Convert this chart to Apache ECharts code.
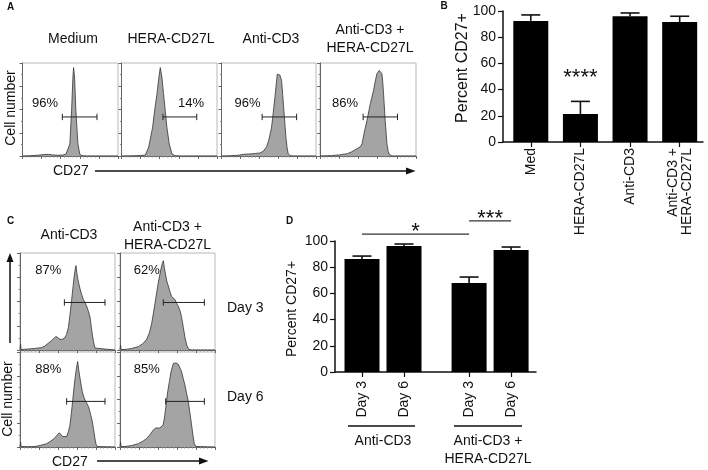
<!DOCTYPE html>
<html><head><meta charset="utf-8">
<script src="https://cdn.jsdelivr.net/npm/echarts@6/dist/echarts.min.js"></script>
<style>html,body{margin:0;padding:0;background:#fff}#c{width:708px;height:470px}</style>
</head><body><div id="c"></div>
<script>
// ================= DATA =================
// Flow histograms: [CD27 position (0-100 across panel), cell number (% of panel height)]
const histMedium = [[0,0],[8,0.3],[16,0.8],[22,1.5],[27,1.8],[31,1.2],[37,0.8],[42,1],[45.5,2],[49.6,13],[51.4,49],[52.8,85],[53.5,95],[54.5,85],[55.9,49],[58,13],[60.1,1.5],[63,0.3],[68,0],[100,0]];
const histHERA = [[0,0],[12,0.2],[20,0.5],[25,1],[28.5,9.7],[32.6,31],[34.7,49],[37.2,67],[39.2,85],[40.6,95],[42.3,85],[44,67],[45.8,49],[47.5,31],[50,13],[52.8,2.5],[56,0.3],[62,0],[100,0]];
const histAntiCD3 = [[0,0],[10,0.3],[18,0.8],[22.9,1.8],[30,2.2],[36,2.8],[40.6,3.2],[44,5],[47.7,9.7],[50,17],[53,31],[54.8,47],[56.5,63],[57.8,76],[59,88],[60,86.5],[61,88.5],[61.8,87],[62.7,84],[63.6,81],[64.8,65],[66,49],[67.2,33],[68.2,20],[69.4,9],[70.6,2.5],[72.5,0.3],[76,0],[100,0]];
const histCombo = [[0,0],[12,0.4],[20,1.2],[28.3,2.5],[33,4.5],[38.6,7.9],[42,10],[43.8,13.3],[46.2,25.8],[49,38.4],[52.4,56.3],[54,63],[55.8,70.6],[57.5,80],[59.3,88.5],[60.3,90],[61.7,92],[62.7,91],[63.6,90.5],[64.5,88.5],[65.3,80],[66.2,67],[67.9,38.4],[69.7,13.3],[71,5],[72.4,1.4],[75,0],[100,0]];
const histD3Anti = [[0,0],[0.6,6],[1.2,0.5],[3,0.5],[8.8,1],[15,1.5],[22.8,2.5],[26,4],[29.8,7],[33,9.5],[35.1,11],[37.9,14],[40,13],[42.1,11],[44.5,11],[46.7,12],[49,16],[50.9,23],[52.7,37],[54.4,52],[55.6,63],[56.8,74],[57.9,82],[58.9,87],[59.8,80],[60.7,74],[62,68],[63.2,63],[65,57],[66.7,52],[68.4,49],[70.2,45],[72,40],[73.7,34],[74.9,25],[76.1,16],[77.5,8],[78.9,2],[80.7,0],[100,0]];
const histD3Combo = [[0,0],[0.6,5],[1.2,0.5],[5.3,0.5],[12,1.5],[19.3,3.5],[24,6.5],[28.1,11],[31,18],[33.3,27],[35,37],[36.8,48],[38.6,59],[40.4,70],[42,78],[43.2,84],[44.5,89],[45.6,92],[46.8,84],[48.1,77],[49.5,70],[50.9,66],[52.6,60],[54.4,55],[56,53],[57.9,52],[59.6,48],[61.4,45],[62.6,42],[63.9,38],[65.3,31],[66.7,23],[68.4,13],[70.2,5],[72.6,0.5],[75,0],[100,0]];
const histD6Anti = [[0,0],[0.6,5],[1.2,0.5],[8,0.3],[15.8,0.5],[22,1.8],[28.1,3.5],[32,6],[36.1,9],[39,12.5],[41.4,15],[43.2,13],[44.9,11],[47,10.5],[49.1,11],[50.9,16],[52.6,23],[54,35],[55.4,48],[56.6,60],[57.9,72],[59.3,82],[60.7,90],[62,80],[63.2,72],[64.4,65],[65.6,58],[67.4,52],[69.1,48],[70.9,45],[72.6,41],[74.4,34],[76.1,27],[77.5,18],[78.9,9],[80,3],[81.1,0.5],[83,0],[100,0]];
const histD6Combo = [[0,0],[0.6,5],[1.2,0.5],[5.3,0.5],[12,1.5],[19.3,3.5],[24,6],[28.1,9],[32,13.5],[35.1,18],[37.5,20],[39.6,21],[41.8,20],[43.9,19],[45.3,23],[46.7,30],[48.5,44],[50.2,58],[52,69],[53.7,79],[55,84],[56.1,88],[57,87],[57.9,90],[59,88.5],[60.2,89],[61.4,87],[63.2,83],[64.9,79],[66.6,72],[68.4,65],[70.2,56],[71.9,48],[73.7,35],[75.4,23],[76.8,12],[78.2,3.5],[80,0.5],[82,0],[100,0]];

// Gates: [start, end, height]
const aGates = [[41.7,78,42],[43.4,78.8,42],[43,79.5,42],[44.9,80.7,42]];
const cGates = [[46.7,89.5,49],[45.6,88.8,49],[49.1,89.5,48],[48.1,88.8,48]];
const aTitles = ['Medium','HERA-CD27L','Anti-CD3',['Anti-CD3 +','HERA-CD27L']];
const aPercents = ['96%','14%','96%','86%'];
const cTitles = ['Anti-CD3',['Anti-CD3 +','HERA-CD27L']];
const cDays = ['Day 3','Day 6'];
const cPercents = ['87%','62%','88%','85%'];

// Panel B
const bCategories = ['Med','HERA-CD27L','Anti-CD3','Anti-CD3 +\nHERA-CD27L'];
const bValues = [92.4, 21.4, 96, 91.6];
const bErrorTop = [97, 31, 98.5, 96];
const bSignif = [[1,'****']];
const yTicks = [0,20,40,60,80,100];

// Panel D
const dLabels = ['Day 3','Day 6','Day 3','Day 6'];
const dPositions = [1, 2, 3.55, 4.55];
const dValues = [86.3, 96.2, 67.9, 93.1];
const dErrorTop = [88.5, 97.7, 72.5, 95.4];
const dGroups = ['Anti-CD3', ['Anti-CD3 +','HERA-CD27L']];
const dComparisons = [[0,2,'*'],[2,3,'***']];

// ================= LAYOUT =================
const FONT = '"Liberation Sans", Arial, Helvetica, sans-serif';
const histBoxes = [
  {left:22.5, top:63, width:95.5, height:93},
  {left:121.5, top:63, width:95.5, height:93},
  {left:221.5, top:63, width:94.5, height:93},
  {left:320, top:63, width:96, height:93},
  {left:20, top:253, width:95, height:97},
  {left:120, top:253, width:95, height:97},
  {left:20, top:352, width:95, height:95},
  {left:120, top:352, width:95, height:95}
];
const hists = [histMedium, histHERA, histAntiCD3, histCombo, histD3Anti, histD3Combo, histD6Anti, histD6Combo];
const gates = aGates.concat(cGates);
const bGrid = {left:503, top:11, width:200, height:131};
const dGrid = {left:335, top:241, width:201, height:131};
const dSigLevels = [105.3, 115.3];

const grids = [], xAxes = [], yAxes = [], series = [];
histBoxes.forEach((b, i) => {
  grids.push(Object.assign({show:true, borderColor:'#b8b8b8', borderWidth:1, containLabel:false, outerBoundsMode:'none'}, b));
  xAxes.push({gridIndex:i, type:'value', min:0, max:100, interval:20,
    axisLine:{show:true, onZero:false, lineStyle:{color:'#666', width:1}},
    axisTick:{show:true, length:3, lineStyle:{color:'#666'}},
    minorTick:{show:true, splitNumber:5, length:1.5, lineStyle:{color:'#888'}},
    axisLabel:{show:false}, splitLine:{show:false}});
  yAxes.push({gridIndex:i, type:'value', min:0, max:100, interval:25,
    axisLine:{show:true, onZero:false, lineStyle:{color:'#666', width:1}},
    axisTick:{show:true, length:3, lineStyle:{color:'#666'}},
    minorTick:{show:true, splitNumber:2, length:1.5, lineStyle:{color:'#888'}},
    axisLabel:{show:false}, splitLine:{show:false}});
  series.push({type:'line', xAxisIndex:i, yAxisIndex:i, data:hists[i], symbol:'none', silent:true,
    lineStyle:{color:'#333', width:0.8}, areaStyle:{color:'#a4a4a4', opacity:1}});
  series.push({type:'custom', xAxisIndex:i, yAxisIndex:i, data:[gates[i]], silent:true, z:5,
    renderItem:(p, api) => {
      const a = api.coord([api.value(0), api.value(2)]);
      const c = api.coord([api.value(1), api.value(2)]);
      const st = {stroke:'#222', lineWidth:1};
      return {type:'group', children:[
        {type:'line', shape:{x1:a[0],y1:a[1],x2:c[0],y2:c[1]}, style:st},
        {type:'line', shape:{x1:a[0],y1:a[1]-3.2,x2:a[0],y2:a[1]+3.2}, style:st},
        {type:'line', shape:{x1:c[0],y1:c[1]-3.2,x2:c[0],y2:c[1]+3.2}, style:st}]};
    }});
});

function barAxes(gi, grid, xmin, xmax, ticks, fmt, margin) {
  grids.push(Object.assign({containLabel:false, outerBoundsMode:'none'}, grid));
  xAxes.push({gridIndex:gi, type:'value', min:xmin, max:xmax,
    axisLine:{show:true, onZero:false, lineStyle:{color:'#111', width:1.5}},
    axisTick:{show:true, customValues:ticks, length:5, lineStyle:{color:'#111', width:1.2}},
    axisLabel:{show:true, customValues:ticks, formatter:fmt, rotate:90, margin:margin,
      fontFamily:FONT, fontSize:14, color:'#111', lineHeight:14},
    splitLine:{show:false}});
  yAxes.push({gridIndex:gi, type:'value', min:0, max:100, interval:20,
    axisLine:{show:true, onZero:false, lineStyle:{color:'#111', width:1.5}},
    axisTick:{show:true, length:5, lineStyle:{color:'#111', width:1.2}},
    axisLabel:{show:true, margin:7, fontFamily:FONT, fontSize:14, color:'#111'},
    splitLine:{show:false}});
}
function errRender(p, api) {
  const b = api.coord([api.value(0), api.value(1)]);
  const t = api.coord([api.value(0), api.value(2)]);
  const st = {stroke:'#111', lineWidth:1.6};
  return {type:'group', children:[
    {type:'line', shape:{x1:b[0],y1:b[1],x2:t[0],y2:t[1]}, style:st},
    {type:'line', shape:{x1:t[0]-9.5,y1:t[1],x2:t[0]+9.5,y2:t[1]}, style:st}]};
}

// Panel B
const bPos = bCategories.map((c, i) => i + 1);
barAxes(8, bGrid, 0.44, 4.47, bPos, v => bCategories[Math.round(v) - 1], 6);
series.push({type:'bar', xAxisIndex:8, yAxisIndex:8, barWidth:35, silent:true,
  itemStyle:{color:'#000'}, data:bValues.map((v, i) => [bPos[i], v])});
series.push({type:'custom', xAxisIndex:8, yAxisIndex:8, silent:true, z:1, renderItem:errRender,
  data:bValues.map((v, i) => [bPos[i], v, bErrorTop[i]])});
series.push({type:'custom', xAxisIndex:8, yAxisIndex:8, silent:true, clip:false,
  data:bSignif.map(s => [bPos[s[0]], bErrorTop[s[0]], s[1]]),
  renderItem:(p, api) => {
    const t = api.coord([api.value(0), api.value(1)]);
    return {type:'text', x:t[0], y:t[1] - 29 + 6,
      style:{text:bSignif[p.dataIndex][1], font:'22px ' + FONT, fill:'#111', align:'center', verticalAlign:'middle'}};
  }});

// Panel D
barAxes(9, dGrid, 0.357, 5.143, dPositions, v => {
  let k = 0; dPositions.forEach((q, i) => { if (Math.abs(q - v) < Math.abs(dPositions[k] - v)) k = i; });
  return dLabels[k];
}, 9);
series.push({type:'bar', xAxisIndex:9, yAxisIndex:9, barWidth:35, silent:true,
  itemStyle:{color:'#000'}, data:dValues.map((v, i) => [dPositions[i], v])});
series.push({type:'custom', xAxisIndex:9, yAxisIndex:9, silent:true, z:1, renderItem:errRender,
  data:dValues.map((v, i) => [dPositions[i], v, dErrorTop[i]])});
series.push({type:'custom', xAxisIndex:9, yAxisIndex:9, silent:true, clip:false,
  data:dComparisons.map((c, i) => [dPositions[c[0]], dPositions[c[1]], dSigLevels[i]]),
  renderItem:(p, api) => {
    const a = api.coord([api.value(0), api.value(2)]);
    const c = api.coord([api.value(1), api.value(2)]);
    return {type:'group', children:[
      {type:'line', shape:{x1:a[0],y1:a[1],x2:c[0],y2:c[1]}, style:{stroke:'#333', lineWidth:1.3}},
      {type:'text', x:(a[0] + c[0]) / 2, y:a[1] - 8 + 6,
        style:{text:dComparisons[p.dataIndex][2], font:'22px ' + FONT, fill:'#111', align:'center', verticalAlign:'middle'}}]};
  }});

// ================= TEXT & ARROWS =================
const G = [];
function txt(x, y, text, size, o) {
  o = o || {};
  G.push({type:'text', x:x, y:y, rotation:o.rot || 0, z:100, silent:true,
    style:{text:text, font:(o.bold ? 'bold ' : '') + size + 'px ' + FONT, fill:'#111',
      align:o.align || 'center', verticalAlign:'middle'}});
}
function line(x1, y1, x2, y2, w) {
  G.push({type:'line', z:100, silent:true, shape:{x1:x1,y1:y1,x2:x2,y2:y2}, style:{stroke:'#111', lineWidth:w || 1.3}});
}
function poly(pts) {
  G.push({type:'polygon', z:100, silent:true, shape:{points:pts}, style:{fill:'#111'}});
}
// Panel letters
txt(7, 7.5, 'A', 10, {bold:true, align:'left'});
txt(440.5, 6, 'B', 10, {bold:true, align:'left'});
txt(7, 221.3, 'C', 10, {bold:true, align:'left'});
txt(286, 221.3, 'D', 10, {bold:true, align:'left'});
// Panel A
const aTitleX = [73, 171, 271, 370];
aTitles.forEach((t, i) => {
  if (Array.isArray(t)) { txt(aTitleX[i], 30, t[0], 14); txt(aTitleX[i], 48.5, t[1], 14); }
  else txt(aTitleX[i], 39, t, 14);
});
const aPctX = [45, 191, 247.5, 345];
aPercents.forEach((t, i) => txt(aPctX[i], 103, t, 13));
txt(11, 108, 'Cell number', 14, {rot:Math.PI / 2});
txt(53, 171, 'CD27', 14, {align:'left'});
line(95, 171, 409, 171, 1.5); poly([[415.5,171],[406,167.5],[406,174.5]]);
// Panel B
txt(462.5, 68, 'Percent CD27+', 16, {rot:Math.PI / 2});
// Panel C
txt(69, 235, cTitles[0], 14);
txt(167.5, 226.7, cTitles[1][0], 14); txt(167.5, 245.5, cTitles[1][1], 14);
txt(227, 308, cDays[0], 14, {align:'left'});
txt(227, 397, cDays[1], 14, {align:'left'});
const cPctPos = [[48.3,270],[146.7,270],[48.3,369],[146.7,369]];
cPercents.forEach((t, i) => txt(cPctPos[i][0], cPctPos[i][1], t, 13));
txt(8.5, 399, 'Cell number', 14, {rot:Math.PI / 2});
line(10, 343, 10, 260, 1.5); poly([[10,253],[6.5,262],[13.5,262]]);
txt(52, 461.7, 'CD27', 14, {align:'left'});
line(97, 461, 202, 461, 1.5); poly([[208.5,461],[199,457.5],[199,464.5]]);
// Panel D
txt(292, 309, 'Percent CD27+', 14, {rot:Math.PI / 2});
line(348, 426, 415, 426, 1.3); line(454, 426, 522, 426, 1.3);
txt(383, 441, dGroups[0], 14);
txt(488, 441, dGroups[1][0], 14); txt(488, 459, dGroups[1][1], 14);

const chart = echarts.init(document.getElementById('c'), null, {renderer:'canvas', width:708, height:470});
chart.setOption({
  animation:false, backgroundColor:'#fff',
  grid:grids, xAxis:xAxes, yAxis:yAxes, series:series, graphic:G
});
</script></body></html>
